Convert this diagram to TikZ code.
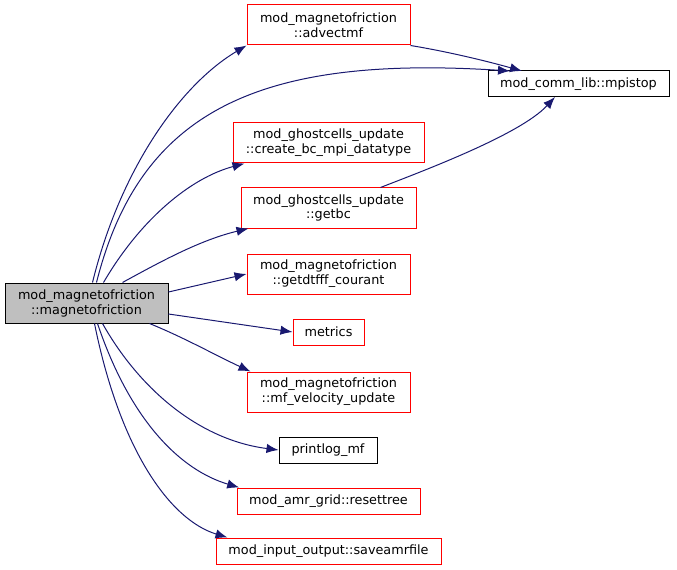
\documentclass[tikz,border=0pt]{standalone}
\usepackage{fontspec}
\setmainfont{DejaVu Sans}
\usetikzlibrary{arrows.meta}
\definecolor{edgeblue}{HTML}{191970}
\definecolor{boxgray}{HTML}{BFBFBF}
\begin{document}
\begin{tikzpicture}[x=0.75pt,y=-0.75pt,
  fn/.style 2 args={draw, line width=0.75pt, inner sep=0pt, align=center,
    font=\fontsize{9.6}{11.2}\selectfont,
    minimum width=#1*0.75pt, minimum height=#2*0.75pt},
  redbox/.style={draw=red},
  blackbox/.style={draw=black},
  call/.style={draw=edgeblue, line width=0.75pt, -{Latex[length=9pt,width=7pt]}}]
\useasboundingbox (0,0) rectangle (677,570);

\node[fn={163}{40}, fill=boxgray, blackbox] (main) at (86.5,303) {mod\_magnetofriction\\::magnetofriction};
\node[fn={163}{40}, redbox] (adv) at (328.5,25) {mod\_magnetofriction\\::advectmf};
\node[fn={181}{26}, blackbox] (mpi) at (578.5,84) {mod\_comm\_lib::mpistop};
\node[fn={191}{40}, redbox] (cbc) at (328.5,143) {mod\_ghostcells\_update\\::create\_bc\_mpi\_datatype};
\node[fn={175}{40}, redbox] (getbc) at (328.5,208) {mod\_ghostcells\_update\\::getbc};
\node[fn={163}{40}, redbox] (dt) at (328.5,274) {mod\_magnetofriction\\::getdtfff\_courant};
\node[fn={71}{26}, redbox] (met) at (328.5,332) {metrics};
\node[fn={163}{40}, redbox] (mfv) at (328.5,392) {mod\_magnetofriction\\::mf\_velocity\_update};
\node[fn={98}{26}, blackbox] (plog) at (328,450) {printlog\_mf};
\node[fn={183}{26}, redbox] (rst) at (328.5,501) {mod\_amr\_grid::resettree};
\node[fn={225}{26}, redbox] (sav) at (328.5,551) {mod\_input\_output::saveamrfile};

\coordinate (mpiA) at (522,71);
\coordinate (mpiB) at (510,71);
\coordinate (mpiC) at (555,97);

\draw[call] (main.north) ++(6,0) .. controls (120,170) and (180,85) .. (adv.south west);
\draw[call] (main.north) ++(10,0) .. controls (140,110) and (260,55) .. (mpiB);
\draw[call] (adv.south east) .. controls (450,52) and (490,62) .. (mpiA);
\draw[call] (getbc.north east) ++(-36,0) .. controls (420,172) and (520,135) .. (mpiC);
\draw[call] (main.north) ++(17,0) .. controls (140,220) and (190,178) .. ([xshift=9pt]cbc.south west);
\draw[call] (main.north) ++(36,0) .. controls (160,262) and (200,240) .. ([xshift=6pt]getbc.south west);
\draw[call] (main.east) ++(0,-11) -- (dt.west);
\draw[call] (main.east) ++(0,11) -- (met.west);
\draw[call] (main.south) ++(63,0) .. controls (185,338) and (215,355) .. ([xshift=3pt]mfv.north west);
\draw[call] (main.south) ++(16,0) .. controls (140,390) and (200,440) .. (plog.west);
\draw[call] (main.south) ++(11,0) .. controls (130,420) and (180,470) .. ([xshift=2pt]rst.north west);
\draw[call] (main.south) ++(8,0) .. controls (120,450) and (170,520) .. ([xshift=9pt]sav.north west);
\end{tikzpicture}
\end{document}
